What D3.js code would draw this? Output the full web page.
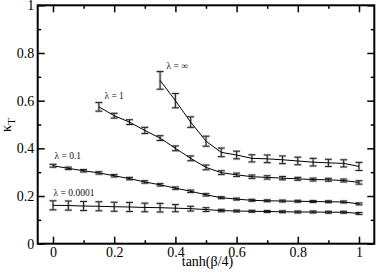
<!DOCTYPE html>
<html>
<head>
<meta charset="utf-8">
<script src="https://d3js.org/d3.v7.min.js"></script>
<style>
  body { margin: 0; background: #fff; }
</style>
</head>
<body>
<div id="chart"></div>
<script>
// series data: x = tanh(beta/4), y = kappa_T, err = half error bar
var xs0001 = [0, 0.05, 0.1, 0.15, 0.2, 0.25, 0.3, 0.35, 0.4, 0.45, 0.5, 0.55, 0.6, 0.65, 0.7, 0.75, 0.8, 0.85, 0.9, 0.95, 1];
var ys0001 = [0.161, 0.160, 0.158, 0.157, 0.155, 0.154, 0.152, 0.151, 0.149, 0.147, 0.143, 0.139, 0.137, 0.136, 0.135, 0.134, 0.133, 0.133, 0.132, 0.132, 0.127];
var es0001 = [0.019, 0.019, 0.019, 0.019, 0.019, 0.019, 0.018, 0.018, 0.015, 0.01, 0.008, 0.005, 0.004, 0.004, 0.004, 0.004, 0.004, 0.004, 0.004, 0.004, 0.004];

var xs01 = xs0001;
var ys01 = [0.327, 0.316, 0.306, 0.297, 0.285, 0.273, 0.259, 0.247, 0.233, 0.220, 0.205, 0.193, 0.187, 0.182, 0.180, 0.179, 0.178, 0.177, 0.176, 0.175, 0.167];
var es01 = [0.006, 0.005, 0.005, 0.005, 0.005, 0.005, 0.005, 0.005, 0.005, 0.005, 0.005, 0.004, 0.004, 0.004, 0.004, 0.004, 0.004, 0.004, 0.004, 0.004, 0.004];

var xs1 = [0.15, 0.2, 0.25, 0.3, 0.35, 0.4, 0.45, 0.5, 0.55, 0.6, 0.65, 0.7, 0.75, 0.8, 0.85, 0.9, 0.95, 1];
var ys1 = [0.574, 0.537, 0.510, 0.475, 0.443, 0.400, 0.358, 0.320, 0.298, 0.289, 0.281, 0.278, 0.275, 0.272, 0.269, 0.268, 0.265, 0.257];
var es1 = [0.018, 0.01, 0.01, 0.013, 0.01, 0.01, 0.01, 0.01, 0.008, 0.007, 0.007, 0.007, 0.007, 0.006, 0.006, 0.006, 0.006, 0.007];

var xsInf = [0.35, 0.4, 0.45, 0.5, 0.55, 0.6, 0.65, 0.7, 0.75, 0.8, 0.85, 0.9, 0.95, 1];
var ysInf = [0.685, 0.600, 0.510, 0.430, 0.383, 0.372, 0.358, 0.356, 0.352, 0.347, 0.342, 0.339, 0.337, 0.324];
var esInf = [0.037, 0.03, 0.022, 0.021, 0.018, 0.016, 0.015, 0.016, 0.016, 0.016, 0.016, 0.015, 0.015, 0.017];

var seriesLabels = ["\u03bb = 0.0001", "\u03bb = 0.1", "\u03bb = 1", "\u03bb = \u221e"];
var xTicks = [0, 0.2, 0.4, 0.6, 0.8, 1];
var yTicks = [0, 0.2, 0.4, 0.6, 0.8, 1];
var xMinor = [0.1, 0.3, 0.5, 0.7, 0.9];
var yMinor = [0.1, 0.3, 0.5, 0.7, 0.9];

var W = 378, H = 275;
var pLeft = 37.7, pRight = 374.3, pTop = 5.3, pBottom = 243.7;
var serif = "'Liberation Serif', 'DejaVu Serif', serif";

var svg = d3.select("#chart").append("svg")
    .attr("width", W)
    .attr("height", H)
    .attr("font-family", serif);

var x = d3.scaleLinear().domain([-0.05, 1.05]).range([pLeft, pRight]);
var y = d3.scaleLinear().domain([0, 1]).range([pBottom, pTop]);

function zipSeries(xs, ys, es) {
    return xs.map(function (v, i) { return { x: v, y: ys[i], e: es[i] }; });
}
var series = [
    zipSeries(xs0001, ys0001, es0001),
    zipSeries(xs01, ys01, es01),
    zipSeries(xs1, ys1, es1),
    zipSeries(xsInf, ysInf, esInf)
];

// error bars: grey halo then dark core
var capW = 3.5;
series.forEach(function (s) {
    var g = svg.append("g");
    [{ c: "#c8c8c8", w: 2.6 }, { c: "#222", w: 1 }].forEach(function (st) {
        var gg = g.append("g").attr("stroke", st.c).attr("stroke-width", st.w).attr("fill", "none");
        gg.selectAll("path").data(s).enter().append("path")
            .attr("d", function (d) {
                var cx = x(d.x), y0 = y(d.y - d.e), y1 = y(d.y + d.e);
                return "M" + cx + "," + y0 + "V" + y1 +
                    "M" + (cx - capW) + "," + y0 + "H" + (cx + capW) +
                    "M" + (cx - capW) + "," + y1 + "H" + (cx + capW);
            });
    });
});

// lines
var line = d3.line().x(function (d) { return x(d.x); }).y(function (d) { return y(d.y); });
series.forEach(function (s) {
    svg.append("path")
        .datum(s)
        .attr("d", line)
        .attr("fill", "none")
        .attr("stroke", "#000")
        .attr("stroke-width", 1);
});

// series labels
var labelPos = [[0.002, 0.2], [0.005, 0.354], [0.168, 0.609], [0.371, 0.733]];
svg.selectAll(".slab").data(seriesLabels).enter().append("text")
    .attr("class", "slab")
    .attr("x", function (d, i) { return x(labelPos[i][0]); })
    .attr("y", function (d, i) { return y(labelPos[i][1]); })
    .attr("font-size", 9.5)
    .attr("fill", "#111")
    .text(function (d) { return d; });

// axes, ticks inward on all four sides
var ax = svg.append("g");
ax.append("g").attr("transform", "translate(0," + pBottom + ")")
    .call(d3.axisBottom(x).tickValues(xTicks).tickSize(-7).tickPadding(3).tickFormat(d3.format("")));
ax.append("g").attr("transform", "translate(0," + pBottom + ")")
    .call(d3.axisBottom(x).tickValues(xMinor).tickSize(-3.5).tickFormat(""));
ax.append("g").attr("transform", "translate(0," + pTop + ")")
    .call(d3.axisTop(x).tickValues(xTicks).tickSize(-7).tickFormat(""));
ax.append("g").attr("transform", "translate(0," + pTop + ")")
    .call(d3.axisTop(x).tickValues(xMinor).tickSize(-3.5).tickFormat(""));
ax.append("g").attr("transform", "translate(" + pLeft + ",0)")
    .call(d3.axisLeft(y).tickValues(yTicks).tickSize(-7).tickPadding(3.5).tickFormat(d3.format("")));
ax.append("g").attr("transform", "translate(" + pLeft + ",0)")
    .call(d3.axisLeft(y).tickValues(yMinor).tickSize(-3.5).tickFormat(""));
ax.append("g").attr("transform", "translate(" + pRight + ",0)")
    .call(d3.axisRight(y).tickValues(yTicks).tickSize(-7).tickFormat(""));
ax.append("g").attr("transform", "translate(" + pRight + ",0)")
    .call(d3.axisRight(y).tickValues(yMinor).tickSize(-3.5).tickFormat(""));

ax.selectAll("g").attr("font-family", serif).attr("font-size", 14);
ax.selectAll(".domain").remove();
ax.selectAll(".tick line").attr("stroke", "#000").attr("stroke-width", 1.5);
ax.selectAll(".tick text").attr("fill", "#000");

// frame
svg.append("rect")
    .attr("x", pLeft).attr("y", pTop)
    .attr("width", pRight - pLeft).attr("height", pBottom - pTop)
    .attr("fill", "none").attr("stroke", "#000").attr("stroke-width", 2);

// axis titles
svg.append("text")
    .attr("x", 207.5)
    .attr("y", 266)
    .attr("text-anchor", "middle")
    .attr("font-size", 14)
    .text("tanh(\u03b2/4)");

var yl = svg.append("text")
    .attr("transform", "translate(11,125) rotate(-90)")
    .attr("text-anchor", "middle")
    .attr("font-size", 14);
yl.append("tspan").text("\u03ba");
yl.append("tspan").attr("font-size", 11).attr("dy", 4).text("T");
</script>
</body>
</html>
